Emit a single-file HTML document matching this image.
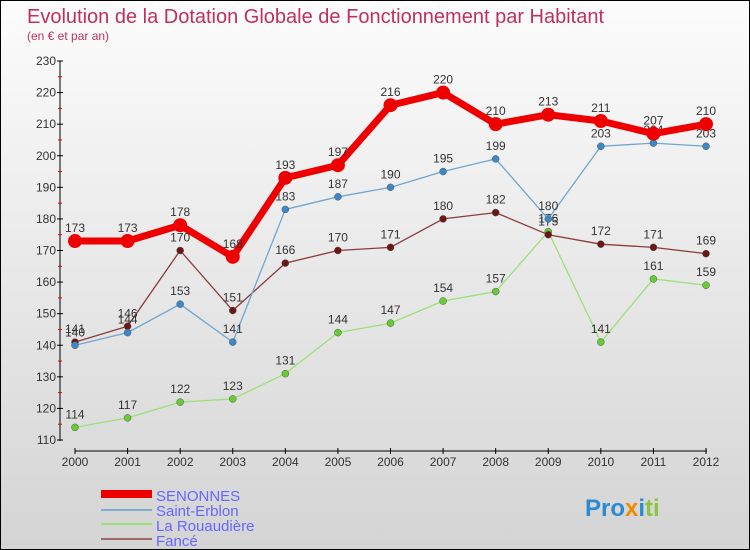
<!DOCTYPE html>
<html><head><meta charset="utf-8"><style>
body{margin:0}
#c{width:748px;height:548px;border:1px solid #000;background:linear-gradient(#fcfcfc,#d4d4d4);position:relative;font-family:"Liberation Sans",sans-serif;overflow:hidden}
svg text{font-family:"Liberation Sans",sans-serif}
</style></head><body>
<div id="c">
<svg id="s" width="748" height="548">
<text x="26" y="22" font-size="20" fill="#c0305a">Evolution de la Dotation Globale de Fonctionnement par Habitant</text>
<text x="26" y="39" font-size="12" fill="#c0305a">(en € et par an)</text>
<g id="plot"></g>
<g>
<rect x="100" y="489" width="51" height="8" fill="#e00"/>
<text x="155" y="500" font-size="15" fill="#6666ff">SENONNES</text>
<rect x="100" y="508" width="51" height="2" fill="#7eaecf"/>
<text x="155" y="515" font-size="15" fill="#6666ff">Saint-Erblon</text>
<rect x="100" y="522" width="51" height="2" fill="#9be07a"/>
<text x="155" y="530" font-size="15" fill="#6666ff">La Rouaudière</text>
<rect x="100" y="537" width="51" height="2" fill="#a06a6a"/>
<text x="155" y="545" font-size="15" fill="#6666ff">Fancé</text>
</g>
<text x="584" y="515" font-size="24" font-weight="bold"><tspan fill="#2b8ad6">Pro</tspan><tspan fill="#f08a00">x</tspan><tspan fill="#2b8ad6">i</tspan><tspan fill="#8bc63f">ti</tspan></text>
</svg></div>
<script>
const years=[2000,2001,2002,2003,2004,2005,2006,2007,2008,2009,2010,2011,2012];
const senonnes=[173,173,178,168,193,197,216,220,210,213,211,207,210];
const saintErblon=[140,144,153,141,183,187,190,195,199,180,203,204,203];
const rouaudiere=[114,117,122,123,131,144,147,154,157,176,141,161,159];
const fance=[141,146,170,151,166,170,171,180,182,175,172,171,169];
const yTicks=[110,120,130,140,150,160,170,180,190,200,210,220,230];
const NS='http://www.w3.org/2000/svg';
const g=document.getElementById('plot');
const X=i=>74+i*(705-74)/(years.length-1);
const Y=v=>439-(v-110)*(379/120);
function mk(t,a,p){const e=document.createElementNS(NS,t);for(const k in a)e.setAttribute(k,a[k]);(p||g).appendChild(e);return e;}
const ya=mk('line',{x1:59,y1:Y(230),x2:59,y2:Y(110)+1,stroke:'#000'});


const xa=mk('line',{x1:74,y1:450,x2:706,y2:450,stroke:'#000'});


yTicks.forEach((v,i)=>{
 mk('line',{x1:56,y1:Y(v),x2:62,y2:Y(v),stroke:'#000'});
 if(i<yTicks.length-1)mk('line',{x1:57,y1:Y(v+5),x2:61,y2:Y(v+5),stroke:'#e00'});
 const t=mk('text',{x:55,y:Y(v)+4,'font-size':12,fill:'#333','text-anchor':'end'});t.textContent=v;
 
 
});
years.forEach((yr,i)=>{
 mk('line',{x1:X(i),y1:447,x2:X(i),y2:453,stroke:'#000'});
 const t=mk('text',{x:X(i),y:465,'font-size':12,fill:'#333','text-anchor':'middle'});t.textContent=yr;
 
 
});
function series(d,col,dot,w,r,name){
 const grp=mk('g',{});
 
 
 mk('polyline',{points:d.map((v,i)=>X(i)+','+Y(v)).join(' '),fill:'none',stroke:col,'stroke-width':w,'stroke-linejoin':'round'},grp);
 d.forEach((v,i)=>{
  const c=mk('circle',{cx:X(i),cy:Y(v),r:r,fill:dot,stroke:w>3?'none':'#555','stroke-width':0.5},grp);
  
  
  const t=mk('text',{x:X(i),y:Y(v)-9,'font-size':12,fill:'#333','text-anchor':'middle'},grp);t.textContent=v;
 });
}
series(rouaudiere,'#9be07a','#66cc33',1.3,3.5,'la-rouaudiere');
series(fance,'#8b3a3a','#6b1515',1.3,3.5,'fance');
series(saintErblon,'#6fa6d0','#3a88c8',1.3,3.5,'saint-erblon');
series(senonnes,'#ee0000','#ee0000',7,7,'senonnes');
</script>
</body></html>
